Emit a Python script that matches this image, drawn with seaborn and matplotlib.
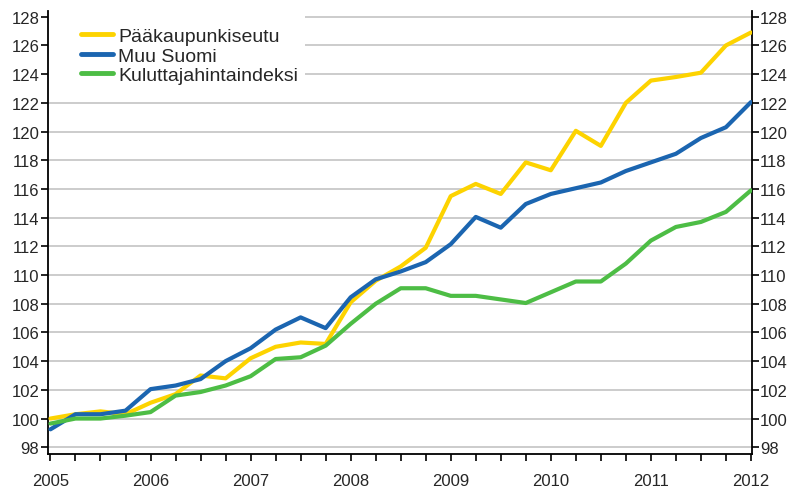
import matplotlib
matplotlib.use("Agg")
import matplotlib.pyplot as plt
from matplotlib.patches import Rectangle
from matplotlib.lines import Line2D
import seaborn as sns
import pandas as pd

# ---- data (quarterly index, 2005Q1 .. 2012Q1) ----
quarters = list(range(29))
year_labels = ["2005", "2006", "2007", "2008", "2009", "2010", "2011", "2012"]
series_names = ["Pääkaupunkiseutu", "Muu Suomi", "Kuluttajahintaindeksi"]

paakaupunkiseutu = [100.0, 100.3, 100.5, 100.3, 101.1, 101.7, 103.0, 102.8,
                    104.2, 105.0, 105.3, 105.2, 108.1, 109.6, 110.6, 111.9,
                    115.5, 116.35, 115.65, 117.85, 117.3, 120.05, 119.0, 122.0,
                    123.55, 123.8, 124.1, 126.0, 126.9]
muu_suomi = [99.25, 100.3, 100.3, 100.55, 102.05, 102.3, 102.75, 104.0,
             104.9, 106.2, 107.05, 106.3, 108.45, 109.7, 110.25, 110.9,
             112.15, 114.05, 113.3, 114.95, 115.65, 116.05, 116.45, 117.25,
             117.85, 118.45, 119.55, 120.3, 122.05]
kuluttajahintaindeksi = [99.65, 100.0, 100.0, 100.2, 100.45, 101.6, 101.85, 102.3,
                         102.95, 104.15, 104.27, 105.08, 106.6, 108.0, 109.08, 109.08,
                         108.55, 108.55, 108.3, 108.05, 108.8, 109.55, 109.55, 110.8,
                         112.4, 113.35, 113.7, 114.4, 115.9]

colors = ["#FDD300", "#1B65B0", "#4DBD45"]

df = pd.DataFrame({
    "q": quarters * 3,
    "value": paakaupunkiseutu + muu_suomi + kuluttajahintaindeksi,
    "series": [series_names[0]] * 29 + [series_names[1]] * 29 + [series_names[2]] * 29,
})

sns.set_style("white")
plt.rcParams["font.family"] = ["Liberation Sans", "DejaVu Sans"]

fig = plt.figure(figsize=(7.91, 4.89), dpi=100)
ax = fig.add_axes([47.7 / 791, 1 - 455 / 489, (751.7 - 47.7) / 791, (455 - 11.7) / 489])

sns.lineplot(data=df, x="q", y="value", hue="series", hue_order=series_names,
             palette=colors, linewidth=3.0, ax=ax, legend=False, zorder=3)

ax.set_xlim(-0.11, 28.03)
ax.set_ylim(97.53, 128.42)

# ticks
ax.set_xticks(list(range(0, 29, 4)))
ax.set_xticklabels(year_labels)
ax.set_xticks([q for q in quarters if q % 4 != 0], minor=True)
ax.set_yticks(list(range(98, 129, 2)))
ax.set_yticklabels([str(v) for v in range(98, 129, 2)])

ax.tick_params(axis="x", which="both", direction="out", length=5, width=1.2,
               color="black", bottom=True, labelsize=12, pad=8.5)
ax.tick_params(axis="y", which="major", direction="out", length=5, width=1.2,
               color="black", left=True, right=True, labelleft=True, labelright=True,
               labelsize=12, pad=1)

ax.set_xlabel("")
ax.set_ylabel("")

# grid
ax.set_axisbelow(True)
ax.yaxis.grid(True, color="#c8c8c8", linewidth=1.3)
ax.xaxis.grid(False)

for side in ["left", "right", "bottom"]:
    ax.spines[side].set_visible(True)
    ax.spines[side].set_color("black")
    ax.spines[side].set_linewidth(1.3)
ax.spines["top"].set_visible(False)

# white area behind legend (covers gridlines)
ax.add_patch(Rectangle((0, 1 - (90 - 11.7) / 443.3), (305 - 47.7) / 704, 1,
                       transform=ax.transAxes, facecolor="white", edgecolor="none",
                       zorder=1, clip_on=False))

handles = [Line2D([0], [0], color=c, linewidth=3.5) for c in colors]
leg = ax.legend(handles, series_names, loc="upper left", bbox_to_anchor=(0.047, 0.962),
                frameon=False, fontsize=14, handlelength=1.66, handletextpad=0.26,
                labelspacing=0.1, borderpad=0, borderaxespad=0)

fig.savefig("out.png", dpi=100)
